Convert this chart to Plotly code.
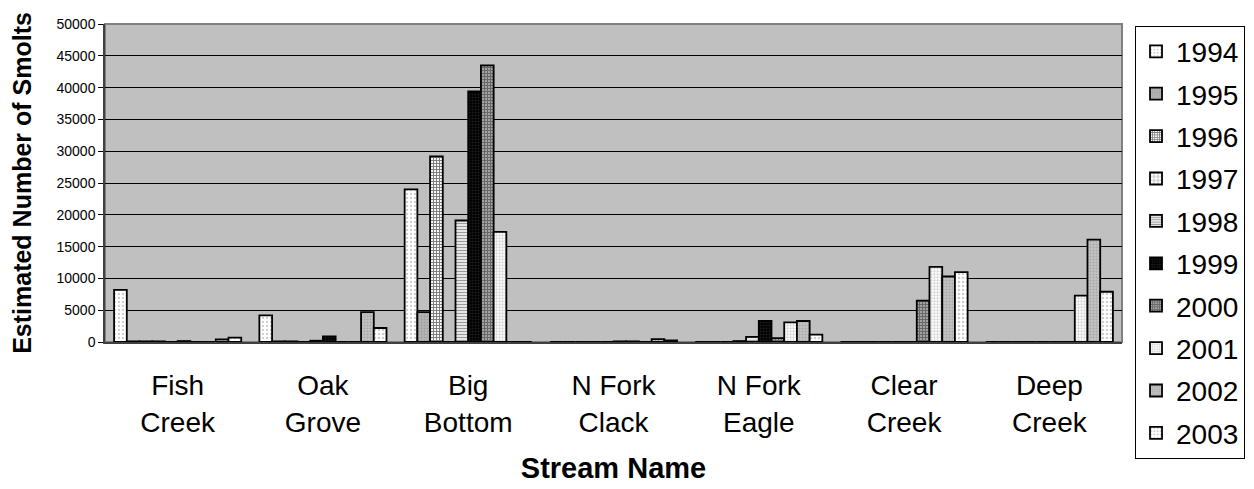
import plotly.graph_objects as go

streams = ["Fish<br>Creek", "Oak<br>Grove", "Big<br>Bottom", "N Fork<br>Clack",
           "N Fork<br>Eagle", "Clear<br>Creek", "Deep<br>Creek"]

years = ["1994", "1995", "1996", "1997", "1998", "1999", "2000", "2001", "2002", "2003"]

smolts_1994 = [8200, 4200, 24000, 0, 0, 0, 0]
smolts_1995 = [100, 100, 4700, 0, 0, 0, 0]
smolts_1996 = [100, 100, 29200, 0, 0, 0, 0]
smolts_1997 = [100, 0, 0, 0, 150, 0, 0]
smolts_1998 = [0, 200, 19100, 0, 800, 0, 0]
smolts_1999 = [150, 900, 39400, 100, 3300, 0, 0]
smolts_2000 = [0, 0, 43500, 100, 600, 6500, 0]
smolts_2001 = [0, 0, 17300, 0, 3100, 11800, 7300]
smolts_2002 = [400, 4700, 0, 450, 3300, 10300, 16100]
smolts_2003 = [700, 2200, 0, 250, 1150, 11000, 7900]

series = [smolts_1994, smolts_1995, smolts_1996, smolts_1997, smolts_1998,
          smolts_1999, smolts_2000, smolts_2001, smolts_2002, smolts_2003]

# fill styles per year: (background, foreground, shape, size, solidity)
fills = [
    ("#ffffff", "#9a9a9a", ".", 4, 0.25),
    ("#b4b4b4", "#8a8a8a", ".", 3, 0.35),
    ("#ffffff", "#000000", "+", 3, 0.6),
    ("#ffffff", "#333333", "+", 5, 0.25),
    ("#ffffff", "#333333", "-", 3, 0.5),
    ("#000000", "#3a3a3a", ".", 3, 0.4),
    ("#d0d0d0", "#000000", "+", 3, 0.75),
    ("#ffffff", "#a8a8a8", ".", 3, 0.45),
    ("#c4c4c4", "#8c8c8c", ".", 3, 0.4),
    ("#ffffff", "#9c9c9c", ".", 4, 0.35),
]

fig = go.Figure()
for year, vals, (bg, fg, shape, size, sol) in zip(years, series, fills):
    fig.add_trace(go.Bar(
        name=year, x=streams, y=vals, legendgroup=year,
        marker=dict(color=bg, line=dict(color="black", width=1.8),
                    pattern=dict(shape=shape, bgcolor=bg, fgcolor=fg,
                                 size=size, solidity=sol, fillmode="overlay")),
    ))

fig.update_layout(
    width=1254, height=489,
    margin=dict(l=105, r=132, t=24, b=147, autoexpand=False),
    paper_bgcolor="white", plot_bgcolor="#c0c0c0",
    barmode="group", bargap=0.125, bargroupgap=0,
    font=dict(family="Liberation Sans, Arial, sans-serif", color="black"),
    showlegend=True,
    legend=dict(x=1.0128, xanchor="left", y=0.995, yanchor="top",
                bordercolor="black", borderwidth=1, bgcolor="white",
                font=dict(size=28), tracegroupgap=3, maxheight=480,
                itemwidth=30),
    xaxis=dict(showgrid=False, showline=True, linecolor="#404040", linewidth=1.5,
               tickfont=dict(size=28), ticks="", ticklabelstandoff=18,
               title=dict(text="<b>Stream Name</b>", font=dict(size=29), standoff=21)),
    yaxis=dict(range=[0, 50000], dtick=5000, showgrid=True, gridcolor="black",
               gridwidth=1, showline=True, linecolor="#404040", linewidth=1.5,
               ticks="outside", ticklen=5, tickcolor="black", tickformat="d",
               tickfont=dict(size=14), zeroline=False,
               title=dict(text="<b>Estimated Number of Smolts</b>",
                          font=dict(size=25), standoff=18)),
)

fig.add_shape(type="rect", xref="paper", yref="paper", x0=0, x1=1, y0=0, y1=1,
              line=dict(color="#808080", width=2), layer="below")

fig.write_html("out.html")
